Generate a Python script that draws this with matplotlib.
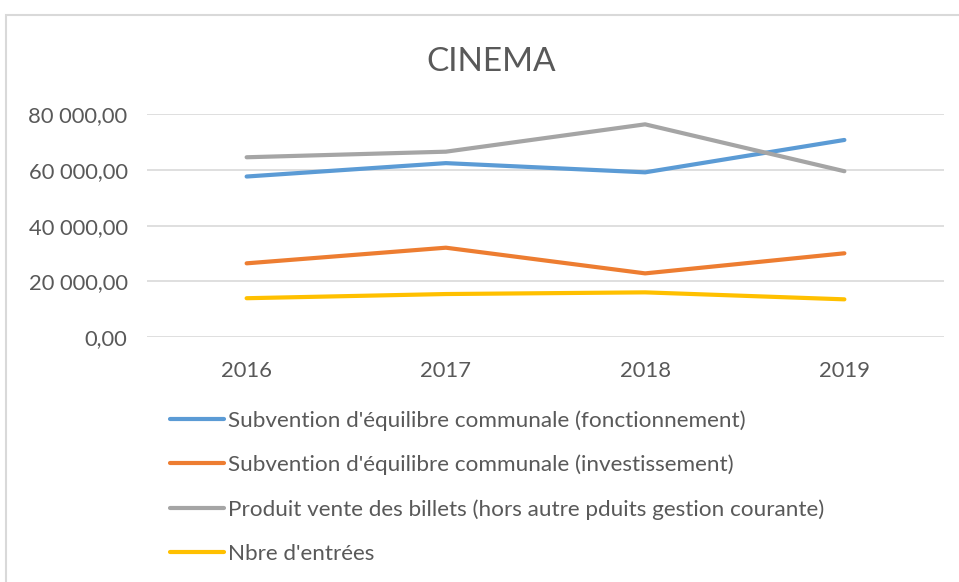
import matplotlib.pyplot as plt
from matplotlib.patches import Rectangle
from matplotlib.ticker import FuncFormatter

years = ['2016', '2017', '2018', '2019']
fonctionnement = [57600, 62400, 59100, 70700]
investissement = [26500, 32100, 22900, 30100]
billets = [64500, 66500, 76300, 59500]
entrees = [14000, 15500, 16100, 13600]

labels = [
    "Subvention d'équilibre communale (fonctionnement)",
    "Subvention d'équilibre communale (investissement)",
    "Produit vente des billets (hors autre pduits gestion courante)",
    "Nbre d'entrées",
]
colors = ['#5B9BD5', '#ED7D31', '#A5A5A5', '#FFC000']

plt.rcParams['font.family'] = ['Lato', 'DejaVu Sans']
text_color = '#595959'

fig = plt.figure(figsize=(9.59, 5.82), dpi=100)
W, H = 959, 582
ax = fig.add_axes([147 / W, 1 - 337.3 / H, (944 - 147) / W, (337.3 - 114) / H])

# chart frame
fig.patches.append(Rectangle((6 / W, -0.1), 1.1, 1 - 15 / H + 0.1, transform=fig.transFigure,
                             fill=False, edgecolor='#D9D9D9', linewidth=1.5))

x = range(len(years))
for vals, lab, col in zip([fonctionnement, investissement, billets, entrees], labels, colors):
    ax.plot(x, vals, color=col, linewidth=3, label=lab, solid_capstyle='round')

ax.set_xlim(-0.5, 3.5)
ax.set_ylim(0, 80000)
ax.set_yticks(range(0, 80001, 20000))
ax.yaxis.set_major_formatter(FuncFormatter(lambda v, p: f"{v:,.2f}".replace(',', ' ').replace('.', ',')))
ax.set_xticks(list(x))
ax.set_xticklabels(years)
ax.grid(axis='y', color='#D9D9D9', linewidth=1.2)
ax.set_axisbelow(True)
for s in ax.spines.values():
    s.set_visible(False)
ax.tick_params(length=0, labelsize=15.8, colors=text_color)
ax.tick_params(axis='y', pad=14)
ax.tick_params(axis='x', pad=17)

fig.text(491 / W, 1 - 62 / H, 'CINEMA', ha='center', va='center', fontsize=24, color=text_color)

leg = fig.legend(loc='upper left', bbox_to_anchor=(170 / W, 1 - 410 / H), frameon=False,
                 fontsize=16.2, handlelength=2.4, handletextpad=0.18, labelspacing=1.07,
                 borderaxespad=0, borderpad=0)
for t in leg.get_texts():
    t.set_color(text_color)

fig.savefig('out.png', dpi=100)
